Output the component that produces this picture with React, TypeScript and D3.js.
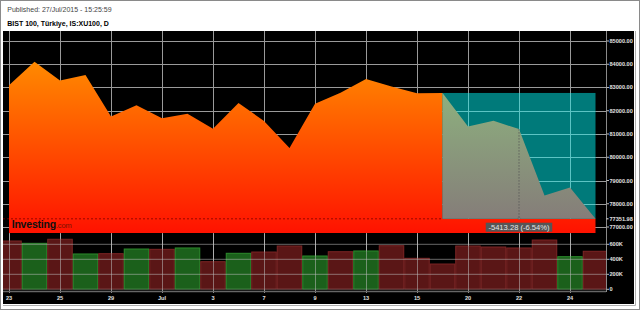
import React from "react";
import * as d3 from "d3";

const dates = [
  "2015-06-23", "2015-06-24", "2015-06-25", "2015-06-26", "2015-06-29", "2015-06-30",
  "2015-07-01", "2015-07-02", "2015-07-03", "2015-07-06", "2015-07-07", "2015-07-08",
  "2015-07-09", "2015-07-10", "2015-07-13", "2015-07-14", "2015-07-15", "2015-07-16",
  "2015-07-20", "2015-07-21", "2015-07-22", "2015-07-23", "2015-07-24", "2015-07-27",
];
const closes = [
  83100, 84110, 83300, 83540, 81750, 82240,
  81680, 81870, 81230, 82330, 81560, 80400,
  82300, 82770, 83370, 83040, 82750, 82765.26,
  81320, 81570, 81210, 78350, 78700, 77351.98,
];
const volumesK = [
  644, 613, 667, 471, 475, 537, 533, 551, 368, 480, 497, 577,
  444, 501, 511, 581, 413, 337, 577, 564, 551, 657, 435, 507,
];
const volumeUp = [
  false, true, false, true, false, true, false, true, false, true, false, false,
  true, false, true, false, false, false, false, false, false, false, true, false,
];
const tickDates = [
  "2015-06-23", "2015-06-25", "2015-06-29", "2015-07-01", "2015-07-03", "2015-07-07",
  "2015-07-09", "2015-07-13", "2015-07-15", "2015-07-20", "2015-07-22", "2015-07-24",
];
const tickLabels = ["23", "25", "29", "Jul", "3", "7", "9", "13", "15", "20", "22", "24"];
const priceTicks = [85000, 84000, 83000, 82000, 81000, 80000, 79000, 78000, 77000];
const volumeTicks = [0, 200, 400, 600];
const volumeTickLabels = ["0", "200K", "400K", "600K"];
const measureStart = "2015-07-16";
const measureEnd = "2015-07-27";
const title = "BIST 100, Türkiye, IS:XU100, D";
const published = "Published: 27/Jul/2015 - 15:25:59";

export default function App() {
  const W = 640, H = 310;
  const left = 3, right = 606, top = 31, mainBottom = 233;
  const volTop = 234, volBottom = 291.5;

  const x = d3.scalePoint<string>().domain(dates).range([9, 595.5]);
  const y = d3.scaleLinear().domain([76742, 85430]).range([mainBottom, top]);
  const yv = d3.scaleLinear().domain([0, 600]).range([289.3, 244.3]);
  const step = x.step();

  const pts = dates.map((d, i) => ({ d, v: closes[i] }));
  const area = d3
    .area<{ d: string; v: number }>()
    .x((p) => x(p.d) as number)
    .y0(mainBottom)
    .y1((p) => y(p.v));
  const areaPath = area(pts) || "";

  const last = closes[closes.length - 1];
  const i0 = dates.indexOf(measureStart);
  const i1 = dates.indexOf(measureEnd);
  const startVal = closes[i0];
  const diff = last - startVal;
  const pct = (diff / startVal) * 100;
  const rx0 = x(measureStart) as number;
  const rx1 = x(measureEnd) as number;
  const ry0 = y(startVal);
  const ry1 = y(last);
  const midX = (rx0 + rx1) / 2;
  const xi = d3.scaleLinear().domain(dates.map((d) => x(d) as number)).range(closes);
  const midY = y(xi(midX));
  const label = `${diff.toFixed(2)} (${pct.toFixed(2)}%)`;
  const labelW = 66.5;

  const axisFont = "'Liberation Sans', Arial, sans-serif";

  return (
    <svg
      width={W}
      height={H}
      viewBox={`0 0 ${W} ${H}`}
      style={{ position: "absolute", left: 0, top: 0 }}
      fontFamily={axisFont}
    >
      <defs>
        <clipPath id="mainClip">
          <rect x={left} y={top} width={right - left} height={mainBottom - top} />
        </clipPath>
        <clipPath id="rectClip">
          <rect x={rx0} y={ry0} width={rx1 - rx0} height={ry1 - ry0} />
        </clipPath>
        <clipPath id="volClip">
          <rect x={left} y={volTop} width={right - left} height={volBottom - volTop - 2} />
        </clipPath>
        <linearGradient id="gOrange" gradientUnits="userSpaceOnUse" x1={0} y1={y(d3.max(closes) as number)} x2={0} y2={mainBottom}>
          <stop offset="0" stopColor="#ff8a00" />
          <stop offset="1" stopColor="#ff1200" />
        </linearGradient>
        <linearGradient id="gGray" gradientUnits="userSpaceOnUse" x1={0} y1={ry0} x2={0} y2={ry1}>
          <stop offset="0" stopColor="#8db07e" />
          <stop offset="1" stopColor="#857d79" />
        </linearGradient>
      </defs>

      <rect x={0} y={0} width={W} height={H} fill="#ffffff" />
      <rect x={0.5} y={0.5} width={W - 1} height={H - 1} fill="none" stroke="#8a8a8a" />
      <text x={7.3} y={12.3} fontSize={7} fill="#444">{published}</text>
      <text x={7.3} y={26} fontSize={7} fontWeight="bold" fill="#000">{title}</text>

      <rect x={3} y={top} width={631} height={273} fill="#000" />
      <line x1={635.5} y1={top} x2={635.5} y2={305.5} stroke="#b0b0b0" />
      <line x1={3} y1={305.5} x2={635.5} y2={305.5} stroke="#b0b0b0" />

      {/* main gridlines */}
      <g stroke="#9a9a9a" strokeWidth={1}>
        {priceTicks.map((t) => (
          <line key={"h" + t} x1={left} x2={right} y1={Math.round(y(t)) + 0.5} y2={Math.round(y(t)) + 0.5} />
        ))}
        {tickDates.map((d) => (
          <line key={"v" + d} x1={Math.round(x(d) as number) + 0.5} x2={Math.round(x(d) as number) + 0.5} y1={top} y2={293} />
        ))}
      </g>

      <g clipPath="url(#mainClip)">
        <path d={areaPath} fill="url(#gOrange)" />
        <line x1={left} x2={rx0} y1={ry1} y2={ry1} stroke="#7a0000" strokeDasharray="2,2" strokeWidth={0.8} />
        <rect x={rx0} y={ry0} width={rx1 - rx0} height={ry1 - ry0} fill="#007a7a" />
        <g clipPath="url(#rectClip)" stroke="#5cc4c4" strokeWidth={1}>
          {priceTicks.map((t) => (
            <line key={"rh" + t} x1={left} x2={right} y1={Math.round(y(t)) + 0.5} y2={Math.round(y(t)) + 0.5} />
          ))}
          {tickDates.map((d) => (
            <line key={"rv" + d} x1={Math.round(x(d) as number) + 0.5} x2={Math.round(x(d) as number) + 0.5} y1={top} y2={mainBottom} />
          ))}
        </g>
        <path d={areaPath} fill="url(#gGray)" clipPath="url(#rectClip)" />
        <line x1={midX} x2={midX} y1={midY} y2={ry1} stroke="#555" strokeDasharray="1.5,1.5" strokeWidth={0.8} />
        <path d={`M${midX},${ry1 - 2} l1.5,1.5 l-1.5,1.5 l-1.5,-1.5 z`} fill="none" stroke="#666" strokeWidth={0.6} />
      </g>

      <rect x={midX - labelW / 2} y={222.7} width={labelW} height={9} fill="#555555" />
      <text x={midX} y={230} fontSize={7.6} fill="#e6e6e6" textAnchor="middle">{label}</text>

      <text x={11.7} y={228.3} fontSize={10.5} fontWeight="bold" fill="#111" letterSpacing={-0.2}>
        Investing<tspan fontSize={7.5} fontWeight="normal" fill="#7a1200">.com</tspan>
      </text>

      {/* volume */}
      <g clipPath="url(#volClip)">
        {dates.map((d, i) => (
          <rect
            key={"vb" + d}
            x={(x(d) as number) - step / 2 + 0.5}
            y={yv(volumesK[i])}
            width={step - 1}
            height={yv(0) - yv(volumesK[i])}
            fill={volumeUp[i] ? "#1b601b" : "#5a1616"}
            stroke={volumeUp[i] ? "#2c8a2c" : "#7c2424"}
            strokeWidth={1}
          />
        ))}
        <g stroke="#bbbbbb" strokeOpacity={0.55}>
          {volumeTicks.map((t) => (
            <line key={"vh" + t} x1={left} x2={right} y1={yv(t)} y2={yv(t)} />
          ))}
          {tickDates.map((d) => (
            <line key={"vv" + d} x1={Math.round(x(d) as number) + 0.5} x2={Math.round(x(d) as number) + 0.5} y1={volTop} y2={volBottom} />
          ))}
        </g>
      </g>

      {/* axes */}
      <line x1={left} x2={right} y1={291.5} y2={291.5} stroke="#666" strokeWidth={1.5} />
      <line x1={606.5} x2={606.5} y1={top} y2={292} stroke="#8a8a8a" />

      <g fontSize={5.6} fontWeight="bold" fill="#e0e0e0">
        {priceTicks.map((t) => (
          <g key={"pl" + t}>
            <line x1={606.5} x2={609} y1={y(t)} y2={y(t)} stroke="#bbb" />
            <text x={609.5} y={y(t) + 2}>{t.toFixed(2)}</text>
          </g>
        ))}
        <line x1={606.5} x2={608.5} y1={y(last)} y2={y(last)} stroke="#eee" />
        <text x={609.5} y={y(last) + 2}>{last.toFixed(2)}</text>
        {volumeTicks.map((t, i) => (
          <g key={"vl" + t}>
            <line x1={606.5} x2={609} y1={yv(t)} y2={yv(t)} stroke="#bbb" />
            <text x={609.5} y={yv(t) + 2}>{volumeTickLabels[i]}</text>
          </g>
        ))}
        {tickDates.map((d, i) => (
          <text key={"xl" + d} x={x(d) as number} y={300.3} textAnchor="middle">{tickLabels[i]}</text>
        ))}
      </g>
    </svg>
  );
}
